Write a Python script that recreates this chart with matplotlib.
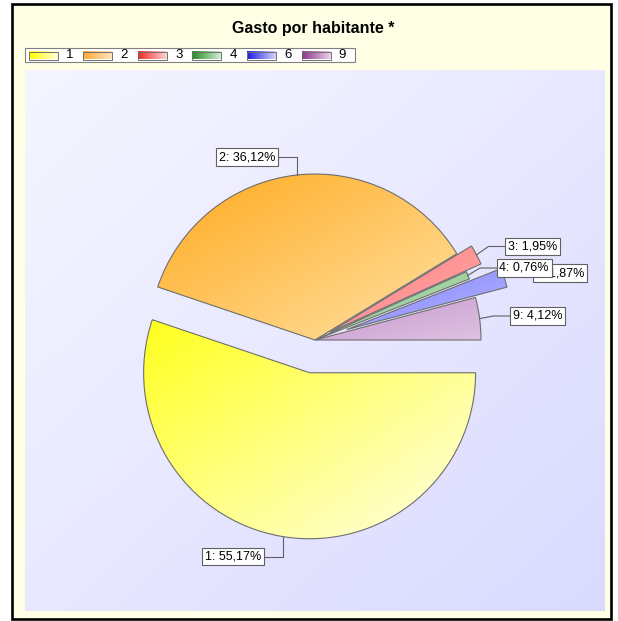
import numpy as np
import matplotlib
matplotlib.use('Agg')
import matplotlib.pyplot as plt
from matplotlib.patches import Rectangle
from matplotlib.colors import to_rgb

plt.rcParams['font.family'] = ['Liberation Sans', 'DejaVu Sans']

title = 'Gasto por habitante *'
categories = ['1', '2', '3', '4', '6', '9']
values = [55.17, 36.12, 1.95, 0.76, 1.87, 4.12]
explode = [0.2, 0.0, 0.1, 0.0, 0.2, 0.0]
label_texts = ['1: 55,17%', '2: 36,12%', '3: 1,95%', '4: 0,76%', '6: 1,87%', '9: 4,12%']

# gradient colours: (upper-left, lower-right)
slice_grad = [('#ffff1e', '#ffffe6'), ('#ffaa1e', '#ffe2a6'), ('#ff8080', '#ffaaaa'),
              ('#8cc88c', '#b6dcb6'), ('#8686ff', '#b2b2ff'), ('#c696cc', '#dec2e2')]
legend_grad = [('#ffff00', '#ffffd8'), ('#ffa830', '#ffe4c0'), ('#f02828', '#ffd4d4'),
               ('#228a22', '#d4eed4'), ('#1c1ce0', '#d4d4ff'), ('#8a348a', '#ecd4ec')]

W, H = 618, 621
fig = plt.figure(figsize=(W / 100, H / 100), dpi=100)
fig.patch.set_facecolor('white')
ax = fig.add_axes([0, 0, 1, 1])


def grad_img(c0, c1, n=96, diag=True):
    c0 = np.array(to_rgb(c0))
    c1 = np.array(to_rgb(c1))
    yy, xx = np.mgrid[0:1:n * 1j, 0:1:n * 1j]
    t = (xx + yy) / 2 if diag else xx
    return c0[None, None, :] * (1 - t[..., None]) + c1[None, None, :] * t[..., None]


# chart background inside frame
ax.add_patch(Rectangle((12, 4), 599, 615, fc='#ffffe6', ec='none', zorder=-1))

# plot area background
ax.imshow(grad_img('#f6f6ff', '#dadaff'), extent=(25, 605, 611, 70), origin='upper',
          aspect='auto', zorder=0, interpolation='bilinear')

# pie
cx, cy, R = 315, 340, 166
wedges, _ = ax.pie(values, explode=[e * R for e in explode], startangle=0, counterclock=True,
                   radius=R, center=(cx, cy),
                   wedgeprops=dict(edgecolor='#6e6e6e', linewidth=0.8, facecolor='none', zorder=4))

for w, (c0, c1) in zip(wedges, slice_grad):
    th = np.radians(np.linspace(w.theta1, w.theta2, 200))
    xs = np.concatenate([[w.center[0]], w.center[0] + w.r * np.cos(th)])
    ys = np.concatenate([[w.center[1]], w.center[1] + w.r * np.sin(th)])
    im = ax.imshow(grad_img(c0, c1), extent=(xs.min(), xs.max(), ys.max(), ys.min()),
                   origin='upper', aspect='auto', zorder=3, interpolation='bilinear')
    im.set_clip_path(w)

# labels
label_pos = [(233, 556.5, 'v'), (247, 157, 'v'), (532.5, 246.5, 'h'),
             (524, 268, 'h'), (560, 273, 'h'), (537.5, 316, 'h')]
draw_order = [0, 1, 2, 4, 3, 5]
for k, i in enumerate(draw_order):
    w = wedges[i]
    tx, ty, style = label_pos[i]
    mid = np.radians((w.theta1 + w.theta2) / 2)
    axp = w.center[0] + w.r * np.cos(mid)
    ayp = w.center[1] + w.r * np.sin(mid)
    if style == 'v':
        px = [axp, axp, tx]
        py = [ayp, ty, ty]
    else:
        ex = tx - 44
        px = [axp, ex, tx]
        py = [ayp, ty, ty]
    ax.plot(px, py, color='#606060', lw=0.8, zorder=6 + 2 * k)
    ax.text(tx, ty, label_texts[i], ha='center', va='center', fontsize=9, color='black',
            zorder=7 + 2 * k,
            bbox=dict(boxstyle='square,pad=0.22', fc='white', ec='#606060', lw=0.8))

# title
ax.text(313, 29, title, ha='center', va='center', fontsize=11.5, fontweight='bold', zorder=30)

# legend
ax.add_patch(Rectangle((25, 48), 330, 14, fc='white', ec='#808080', lw=0.8, zorder=30))
for i, (cat, (c0, c1)) in enumerate(zip(categories, legend_grad)):
    x0 = 28.5 + i * 54.6
    ax.imshow(grad_img(c0, c1, diag=False), extent=(x0, x0 + 29, 59.5, 52), origin='upper',
              aspect='auto', zorder=31, interpolation='bilinear')
    ax.add_patch(Rectangle((x0, 52), 29, 7.5, fill=False, ec='#707070', lw=0.7, zorder=32))
    ax.text(x0 + 41, 55.5, cat, ha='center', va='center', fontsize=9.5, zorder=32)

# outer frame
ax.add_patch(Rectangle((12, 4), 599, 615, fill=False, ec='black', lw=1.9, zorder=40))

ax.set_xlim(0, W)
ax.set_ylim(H, 0)
ax.set_aspect('auto')
ax.axis('off')
fig.savefig('out.png', dpi=100, facecolor=fig.get_facecolor())
